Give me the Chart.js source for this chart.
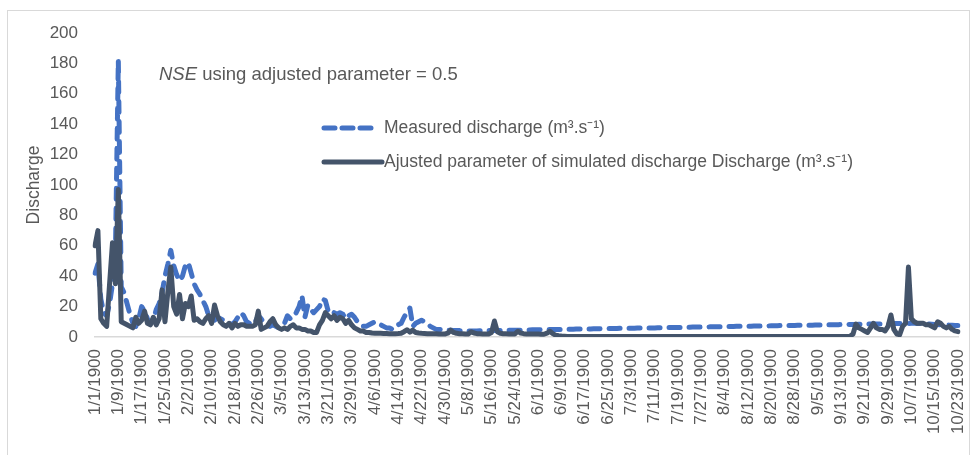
<!DOCTYPE html>
<html lang="en">
<head>
<meta charset="UTF-8">
<title>Discharge</title>
<script src="https://cdn.jsdelivr.net/npm/chart.js"></script>
<style>
  html, body { margin: 0; padding: 0; background: #fff; overflow: hidden; }
  .frame { position: absolute; left: 7px; top: 10px; width: 961px; height: 470px; border: 1px solid #d9d9d9; }
  .chart-box { position: absolute; left: 0; top: 0; width: 976px; height: 455px; }
</style>
</head>
<body>
<div class="frame"></div>
<div class="chart-box"><canvas id="chart"></canvas></div>
<script>
// daily values, 1/1/1900 .. 10/23/1900
const measured = [
  42, 48, 25, 16, 14, 22, 35, 55, 182, 33, 29, 22, 15, 9, 7, 12, 20, 17, 12, 9,
  11, 18, 22, 29, 40, 48, 57, 47, 41, 37, 40, 47, 49, 42, 35, 31, 28, 24, 20, 14,
  12, 11, 13, 12, 11, 10, 9, 8, 10, 13, 16, 14, 10, 9, 8, 10, 14, 12, 9, 8,
  7, 8, 7, 6, 7, 9, 14, 12, 13, 16, 20, 27, 13, 21, 18, 16, 18, 20, 25, 24,
  17, 15, 16, 15, 16, 15, 12, 14, 15, 13, 10, 9, 7, 7, 8, 9, 10, 9, 8, 7,
  6, 6, 5, 6, 8, 9, 13, 16, 19, 7, 9, 10, 11, 10, 9, 7, 6, 5, 5,
  4.8, 4.6, 4.5, 4.4, 4.3, 4.2, 4.2, 4.1, 4.1, 4.0, 4.0,
  4.0, 4.0, 4.1, 4.1, 4.1, 4.2, 4.2, 4.2, 4.3, 4.3, 4.3, 4.4, 4.4, 4.4, 4.5, 4.5, 4.5, 4.6, 4.6, 4.6,
  4.7, 4.7, 4.7, 4.8, 4.8, 4.8, 4.9, 4.9, 4.9, 5.0, 5.0, 5.0, 5.1, 5.1, 5.1, 5.2, 5.2, 5.2, 5.3, 5.3,
  5.3, 5.4, 5.4, 5.4, 5.5, 5.5, 5.5, 5.6, 5.6, 5.6, 5.7, 5.7, 5.7, 5.8, 5.8, 5.8, 5.9, 5.9, 5.9, 6.0,
  6.0, 6.0, 6.0, 6.1, 6.1, 6.1, 6.2, 6.2, 6.2, 6.3, 6.3, 6.3, 6.4, 6.4, 6.4, 6.5, 6.5, 6.5, 6.6, 6.6, 6.6,
  6.7, 6.7, 6.7, 6.8, 6.8, 6.8, 6.9, 6.9, 6.9, 7.0, 7.0, 7.0, 7.1, 7.1, 7.1, 7.2, 7.2, 7.2, 7.3, 7.3,
  7.3, 7.4, 7.4, 7.4, 7.5, 7.5, 7.5, 7.6, 7.6, 7.6, 7.7, 7.7, 7.7, 7.8, 7.8, 7.8, 7.9, 7.9, 7.9, 8.0,
  8.0, 8.0, 8.1, 8.1, 8.1, 8.2, 8.2, 8.2, 8.3, 8.3, 8.3, 8.4, 8.4, 8.4, 8.5, 8.5, 8.5, 8.6, 8.6, 8.6,
  8.7, 8.7, 8.7, 8.8, 8.8, 8.8, 8.9, 8.9, 8.9, 9.0, 9.0, 8.9, 8.8, 8.7, 8.6, 8.5, 8.4, 8.3, 8.2, 8.1,
  8.0, 7.9, 7.8, 7.7, 7.6, 7.5
];

const adjusted = [
  60, 70, 12, 9, 7, 35, 62, 35, 97, 10, 9, 8, 7, 6, 13, 9, 11, 17, 9, 8,
  13, 8, 12, 31, 10, 30, 46, 20, 15, 28, 12, 22, 20, 27, 11, 12, 10, 9, 12, 14,
  9, 21, 14, 10, 8, 7, 9, 6, 9, 7, 8, 8, 7, 7, 7, 8, 17, 5, 6, 7,
  10, 12, 8, 6, 5, 6, 5, 7, 8, 6, 6, 5, 5, 4, 4, 3, 3, 8, 11, 16,
  14, 12, 14, 11, 13, 12, 9, 11, 8, 6, 5, 4, 4, 3, 3, 2.6, 2.5, 2.4, 2.4, 2.3,
  2.3, 2.2, 2.2, 2.2, 2.3, 2.5, 3.5, 4.8, 3.2, 4.5, 3.0, 2.6, 2.4, 2.3, 2.2, 2.2, 2.1, 2.1, 2.0, 2.0,
  2.0, 2.5, 4.5, 3.0, 2.4, 2.2, 2.1, 2.0, 2.0, 3.5, 2.6, 2.2, 2.1, 2.0, 2.0, 2.0, 3.0, 10.5, 3.5, 2.5,
  2.2, 2.1, 2.0, 2.0, 2.0, 3.8, 2.6, 2.2, 2.0, 2.0, 1.9, 1.9, 1.9, 1.8, 1.8, 2.5, 3.8, 2.2, 1.2, 0.8,
  0.6, 0.5,
  0.4, 0.4, 0.3, 0.3, 0.3, 0.3, 0.3, 0.3, 0.3, 0.3, 0.3, 0.3, 0.3, 0.3, 0.3, 0.3,
  0.3, 0.3, 0.3, 0.3, 0.3, 0.3, 0.3, 0.3, 0.3, 0.3, 0.3, 0.3, 0.3, 0.3, 0.3, 0.3,
  0.3, 0.3, 0.3, 0.3, 0.3, 0.3, 0.3, 0.3, 0.3, 0.3, 0.3, 0.3, 0.3, 0.3, 0.3, 0.3,
  0.3, 0.3, 0.3, 0.3, 0.3, 0.3, 0.3, 0.3, 0.3, 0.3, 0.3, 0.3, 0.3, 0.3, 0.3, 0.3,
  0.3, 0.3, 0.3, 0.3, 0.3, 0.3, 0.3, 0.3, 0.3, 0.3, 0.3, 0.3, 0.3, 0.3, 0.3, 0.3,
  0.3, 0.3, 0.3, 0.3, 0.3, 0.3, 0.3, 0.3, 0.3, 0.3, 0.3, 0.3, 0.3, 0.3, 0.3, 0.4, 0.4,
  0.5, 2.0, 8.5, 6, 5, 4, 3, 6, 9, 6, 5, 5, 4, 7, 14.5, 5, 2, 1.5, 7, 9,
  46, 12, 10, 9, 9, 9, 8, 8, 7, 6, 10, 9, 7, 6, 7, 5, 4, 3.5
];

const legendLabels = [
  'Measured discharge (m\u00b3.s\u207b\u00b9)',
  'Ajusted parameter of simulated discharge Discharge (m\u00b3.s\u207b\u00b9)'
];
const tickEvery = 8;
// the source spreadsheet counts a 29 February in 1900
const monthDays = [31, 29, 31, 30, 31, 30, 31, 31, 30, 31, 30, 31];

const dates = [];
let m = 0, day = 1;
for (let i = 0; i < measured.length; i++) {
  dates.push((m + 1) + '/' + day + '/1900');
  day++;
  if (day > monthDays[m]) { day = 1; m++; }
}

const grey = '#595959';
const family = '"Liberation Sans", Arial, sans-serif';

const notes = {
  id: 'notes',
  afterDraw(chart) {
    const ctx = chart.ctx;
    ctx.save();
    ctx.fillStyle = grey;
    ctx.textBaseline = 'middle';
    ctx.textAlign = 'left';

    ctx.font = 'italic 18.5px ' + family;
    ctx.fillText('NSE', 159, 75);
    const w = ctx.measureText('NSE').width;
    ctx.font = '18.5px ' + family;
    ctx.fillText(' using adjusted parameter = 0.5', 159 + w, 75);

    // legend
    ctx.lineWidth = 5;
    ctx.lineCap = 'round';
    ctx.strokeStyle = '#4472C4';
    ctx.setLineDash([11, 7]);
    ctx.beginPath();
    ctx.moveTo(324, 128);
    ctx.lineTo(372, 128);
    ctx.stroke();

    ctx.setLineDash([]);
    ctx.strokeStyle = '#44546A';
    ctx.beginPath();
    ctx.moveTo(324, 162);
    ctx.lineTo(382, 162);
    ctx.stroke();

    ctx.font = '17.5px ' + family;
    ctx.fillText(legendLabels[0], 384, 128);
    ctx.fillText(legendLabels[1], 384, 162);
    ctx.restore();
  }
};

new Chart(document.getElementById('chart'), {
  type: 'line',
  data: {
    labels: dates,
    datasets: [
      {
        label: legendLabels[0],
        data: measured,
        borderColor: '#4472C4',
        borderWidth: 5,
        borderDash: [11, 9],
        borderCapStyle: 'round',
        borderJoinStyle: 'round',
        pointRadius: 0,
        tension: 0,
        order: 2
      },
      {
        label: legendLabels[1],
        data: adjusted,
        borderColor: '#44546A',
        borderWidth: 5,
        borderCapStyle: 'round',
        borderJoinStyle: 'round',
        pointRadius: 0,
        tension: 0,
        order: 1
      }
    ]
  },
  options: {
    responsive: true,
    maintainAspectRatio: false,
    animation: false,
    layout: { padding: { top: 33, right: 18, bottom: 0, left: 0 } },
    plugins: {
      legend: { display: false },
      tooltip: { enabled: false }
    },
    scales: {
      x: {
        grid: { display: false, drawTicks: false },
        border: { display: true, color: '#d9d9d9', width: 1.5 },
        ticks: {
          autoSkip: false,
          minRotation: 90,
          maxRotation: 90,
          padding: 12,
          color: grey,
          font: { family: family, size: 17 },
          callback: function (v, i) { return i % tickEvery === 0 ? dates[i] : ''; }
        },
        afterFit: function (s) {
          s.height = 118;
          s.paddingLeft = 0;
          s.paddingRight = 0;
        }
      },
      y: {
        min: 0,
        max: 200,
        grid: { display: false, drawTicks: false },
        border: { display: false },
        ticks: {
          stepSize: 20,
          padding: 17,
          color: grey,
          font: { family: family, size: 17 }
        },
        title: {
          display: true,
          text: 'Discharge',
          color: grey,
          font: { family: family, size: 17.5 },
          padding: { top: 24, bottom: 0 }
        },
        afterFit: function (s) { s.width = 95; }
      }
    }
  },
  plugins: [notes]
});
</script>
</body>
</html>
